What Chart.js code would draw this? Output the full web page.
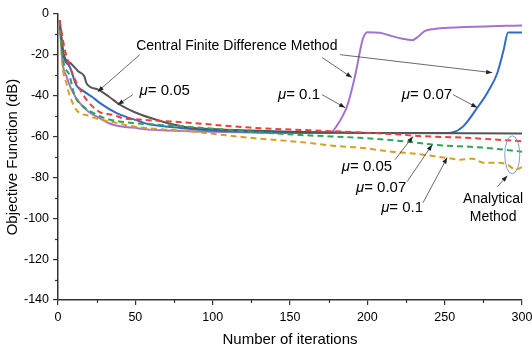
<!DOCTYPE html>
<html><head><meta charset="utf-8">
<script src="https://cdn.jsdelivr.net/npm/chart.js@4/dist/chart.umd.min.js"></script>
<style>html,body{margin:0;padding:0;background:#fff}</style>
</head><body>
<canvas id="c" width="532" height="349"></canvas>
<script>
// ---- data ----
const xTickValues = [0, 50, 100, 150, 200, 250, 300];
const yTickValues = [0, -20, -40, -60, -80, -100, -120, -140];

// Central finite difference, mu = 0.05 (black)
const cfd005X = [1, 4, 8, 13, 17, 18.5, 26, 33, 40, 50, 59, 70, 85, 105, 124, 150, 200, 300];
const cfd005Y = [-3, -20.5, -24, -28, -30.5, -34, -37, -40.5, -44.4, -48.2, -50.7, -53.2, -55.6, -56.5, -57, -57.6, -58.2, -58.5];

// Central finite difference, mu = 0.07 (blue)
const cfd007X = [1, 3, 7.5, 12, 16, 22, 27, 38, 53, 59, 79, 100, 150, 200, 250, 255, 262, 271, 278, 284, 288, 291, 300];
const cfd007Y = [-3, -19, -25.7, -35, -37.5, -40.5, -43.5, -48.5, -52.6, -54, -55.8, -57, -58, -58.2, -58.3, -58, -55, -46, -38, -29, -18, -9, -9];

// Central finite difference, mu = 0.1 (purple)
const cfd01X = [1, 3, 5.5, 8.7, 14, 20, 27, 33, 40, 48, 59, 70, 90, 124, 150, 176, 180, 184, 187, 192, 197, 200, 208, 215, 222, 229, 233, 237, 243, 250, 260, 270, 280, 290, 300];
const cfd01Y = [-3, -24, -30.5, -37, -43.5, -48, -51, -53.5, -55, -55.6, -56.6, -57, -57.5, -58, -58.3, -58.3, -55, -50, -45, -30.6, -12.5, -8.9, -9.2, -10.6, -12, -12.8, -11, -8.4, -7.3, -6.8, -6.5, -6.2, -6, -5.8, -5.6];

// Analytical, mu = 0.05 (red dashed)
const ana005X = [1, 4.4, 7.6, 12, 18.5, 27, 36, 42, 53, 59, 81, 124, 178, 221, 230, 264, 300];
const ana005Y = [-3, -17.4, -25.6, -33.7, -42, -48, -49.5, -51, -51.7, -52, -53, -55.6, -57.4, -59, -59.6, -60.6, -62.3];

// Analytical, mu = 0.07 (green dashed)
const ana007X = [1, 3, 7.6, 10.8, 16, 27, 31, 48.5, 59, 81, 124, 161, 195, 226, 243, 275, 300];
const ana007Y = [-3, -20.8, -30.5, -40, -45, -50, -51.2, -53.4, -54, -55, -57.6, -59.4, -60.6, -62.5, -64, -65.4, -67.4];

// Analytical, mu = 0.1 (orange dashed)
const ana01X = [1, 3, 5.5, 7.6, 12, 20.5, 27, 33.5, 48, 53, 70, 79, 92, 124, 161, 178, 195, 217, 226, 251, 260, 268, 275, 283, 290, 296, 300];
const ana01Y = [-3, -25.7, -34, -40, -47, -50, -51.7, -52.6, -55, -55.5, -56.6, -57, -58, -60.6, -63, -64.5, -65.4, -67.5, -68, -70.4, -71.3, -70.8, -72.8, -72.8, -73.5, -76.2, -75];

// ---- annotations (data coordinates) ----
const annoTexts = [
  {text: 'Central Finite Difference Method', x: 115.6, y: -15.5},
  {mu: '0.05', x: 69, y: -37.5},
  {mu: '0.1', x: 155.8, y: -39.5},
  {mu: '0.07', x: 238.6, y: -39.5},
  {mu: '0.05', x: 199.8, y: -74.8},
  {mu: '0.07', x: 208.9, y: -85},
  {mu: '0.1', x: 222.5, y: -94.9},
  {text: 'Analytical', x: 281.3, y: -90.4},
  {text: 'Method', x: 281.3, y: -99.3}
];
const annoArrows = [
  [52.9, -19.9, 25.7, -38],
  [170.7, -21.3, 190, -31.1],
  [182.3, -19.9, 280.7, -28.7],
  [48.4, -39.5, 38.6, -44.4],
  [170.7, -39.5, 185.6, -45.8],
  [255.5, -39.5, 271, -45.8],
  [217.9, -71.3, 229.5, -60],
  [225.7, -82.1, 241.9, -64],
  [236, -92.4, 251.6, -70.3],
  [284, -84.6, 290.5, -79.2]
];
const ellipse = {x: 293.7, y: -68.9, rx: 7.5, ry: 19};

function pts(xs, ys) { return xs.map((x, i) => ({x: x, y: ys[i]})); }

const FONT = "'Liberation Sans', Arial, sans-serif";

const annoPlugin = {
  id: 'anno',
  afterDraw(chart) {
    const ctx = chart.ctx, xs = chart.scales.x, ys = chart.scales.y;
    const ca = chart.chartArea;
    ctx.save();
    // minor ticks
    ctx.strokeStyle = '#333'; ctx.lineWidth = 1.2;
    for (let v = 25; v < 300; v += 50) {
      const px = Math.round(xs.getPixelForValue(v)) + 0.5;
      ctx.beginPath(); ctx.moveTo(px, ca.bottom); ctx.lineTo(px, ca.bottom + 3); ctx.stroke();
    }
    for (let v = -10; v > -140; v -= 20) {
      const py = Math.round(ys.getPixelForValue(v)) + 0.5;
      ctx.beginPath(); ctx.moveTo(ca.left, py); ctx.lineTo(ca.left - 3, py); ctx.stroke();
    }
    // arrows
    ctx.strokeStyle = '#444'; ctx.fillStyle = '#222'; ctx.lineWidth = 0.8;
    annoArrows.forEach(a => {
      const x1 = xs.getPixelForValue(a[0]), y1 = ys.getPixelForValue(a[1]);
      const x2 = xs.getPixelForValue(a[2]), y2 = ys.getPixelForValue(a[3]);
      ctx.beginPath(); ctx.moveTo(x1, y1); ctx.lineTo(x2, y2); ctx.stroke();
      const ang = Math.atan2(y2 - y1, x2 - x1), L = 6, W = 2.3;
      ctx.beginPath();
      ctx.moveTo(x2, y2);
      ctx.lineTo(x2 - L * Math.cos(ang) + W * Math.sin(ang), y2 - L * Math.sin(ang) - W * Math.cos(ang));
      ctx.lineTo(x2 - L * Math.cos(ang) - W * Math.sin(ang), y2 - L * Math.sin(ang) + W * Math.cos(ang));
      ctx.closePath(); ctx.fill();
    });
    // ellipse
    ctx.strokeStyle = '#7f9fcf'; ctx.lineWidth = 1;
    ctx.beginPath();
    ctx.ellipse(xs.getPixelForValue(ellipse.x), ys.getPixelForValue(ellipse.y), ellipse.rx, ellipse.ry, 0, 0, Math.PI * 2);
    ctx.stroke();
    // texts
    ctx.fillStyle = '#000'; ctx.textBaseline = 'middle';
    annoTexts.forEach(t => {
      const px = xs.getPixelForValue(t.x), py = ys.getPixelForValue(t.y);
      if (t.text) {
        ctx.font = "14px " + FONT;
        ctx.textAlign = 'center';
        ctx.fillText(t.text, px, py);
      } else {
        ctx.textAlign = 'left';
        ctx.font = "italic 15px " + FONT;
        const w1 = ctx.measureText('\u03bc').width;
        ctx.font = "15px " + FONT;
        const rest = '= ' + t.mu;
        const w2 = ctx.measureText(rest).width;
        const start = px - (w1 + w2) / 2;
        ctx.font = "italic 15px " + FONT;
        ctx.fillText('\u03bc', start, py);
        ctx.font = "15px " + FONT;
        ctx.fillText(rest, start + w1, py);
      }
    });
    ctx.restore();
  }
};

const solid = (data, color) => ({data, borderColor: color, borderWidth: 2, pointRadius: 0, fill: false, cubicInterpolationMode: 'monotone'});
const dashed = (data, color) => ({data, borderColor: color, borderWidth: 2, borderDash: [6, 4], pointRadius: 0, fill: false, cubicInterpolationMode: 'monotone'});

new Chart(document.getElementById('c'), {
  type: 'line',
  data: {
    datasets: [
      dashed(pts(ana005X, ana005Y), '#e8413c'),
      dashed(pts(ana007X, ana007Y), '#2ea45a'),
      dashed(pts(ana01X, ana01Y), '#d6a020'),
      solid(pts(cfd005X, cfd005Y), '#555555'),
      solid(pts(cfd007X, cfd007Y), '#2f6bc8'),
      solid(pts(cfd01X, cfd01Y), '#a374cc')
    ]
  },
  options: {
    responsive: false,
    animation: false,
    layout: {padding: {top: 14, right: 0, left: 0, bottom: 0}},
    plugins: {legend: {display: false}, tooltip: {enabled: false}},
    scales: {
      x: {
        type: 'linear', min: 0, max: 300,
        afterBuildTicks: s => { s.ticks = xTickValues.map(v => ({value: v})); },
        afterFit: s => { s.height = 49; s.paddingRight = 10; },
        grid: {display: true, drawOnChartArea: false, drawTicks: true, tickLength: 5, color: '#333', lineWidth: 1.2},
        border: {display: true, color: '#333', width: 1.5},
        ticks: {color: '#000', font: {family: FONT, size: 12.5}, padding: 5, maxRotation: 0},
        title: {display: true, text: 'Number of iterations', color: '#000', font: {family: FONT, size: 15}, padding: {top: 0, bottom: 0}}
      },
      y: {
        type: 'linear', min: -140, max: 0,
        afterBuildTicks: s => { s.ticks = yTickValues.map(v => ({value: v})); },
        afterFit: s => { s.width = 58; },
        grid: {display: true, drawOnChartArea: false, drawTicks: true, tickLength: 5, color: '#333', lineWidth: 1.2},
        border: {display: true, color: '#333', width: 1.5},
        ticks: {color: '#000', font: {family: FONT, size: 12.5}, padding: 4},
        title: {display: true, text: 'Objective Function (dB)', color: '#000', font: {family: FONT, size: 15}, padding: {top: 4, bottom: 0}}
      }
    }
  },
  plugins: [annoPlugin]
});
</script>
</body></html>
